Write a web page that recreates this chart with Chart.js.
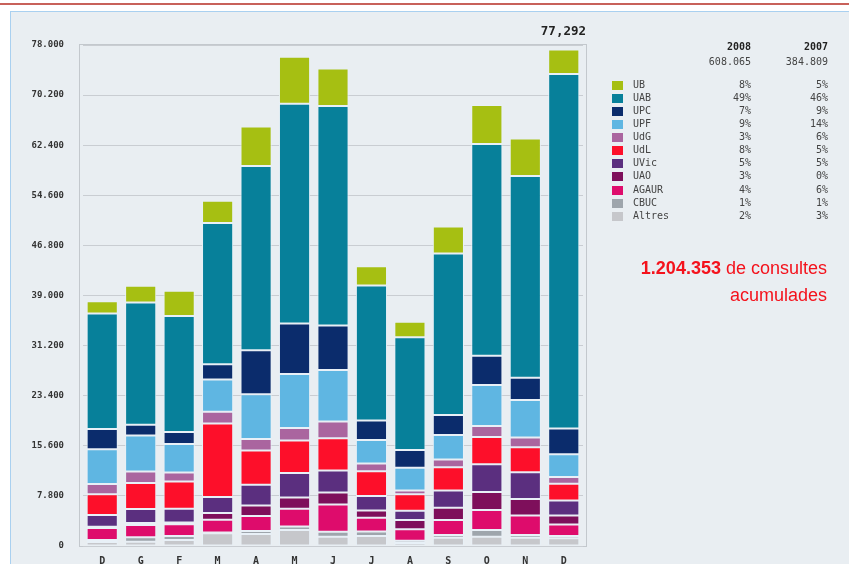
<!DOCTYPE html>
<html>
<head>
<meta charset="utf-8">
<script src="https://cdn.jsdelivr.net/npm/chart.js@4.4.1/dist/chart.umd.min.js"></script>
<style>
  body { margin: 0; width: 849px; height: 564px; overflow: hidden; background: #fff; position: relative; }
  .topline { position: absolute; left: 0; top: 3px; width: 849px; height: 2px; background: #c8615a; }
  .panel { position: absolute; left: 10px; top: 11px; width: 900px; height: 600px; background: #e9eef2; border: 1px solid #a9d0f0; }
  #chart { position: absolute; left: 0; top: 0; }
  .maxlabel { position: absolute; right: 263px; top: 23px; font: bold 12.5px "DejaVu Sans Mono", monospace; color: #222; }
  .legend { position: absolute; left: 610px; top: 40px; font: 10px "DejaVu Sans Mono", monospace; color: #444; }
  .legend .hdr { position: absolute; font-weight: bold; color: #222; text-align: right; width: 60px; }
  .legend .tot { position: absolute; text-align: right; width: 70px; color: #444; }
  .legend .row { position: absolute; left: 0; height: 13px; width: 220px; }
  .legend .sw { position: absolute; left: 2px; top: 2px; width: 11px; height: 9px; }
  .legend .nm { position: absolute; left: 23px; top: 0; }
  .legend .p8 { position: absolute; right: 79px; top: 0; text-align: right; }
  .legend .p7 { position: absolute; right: 2px; top: 0; text-align: right; }
  .note { position: absolute; right: 22px; top: 255px; font: 18px "Liberation Sans", Arial, sans-serif; color: #f4121c; text-align: right; line-height: 27px; }
  .note b { font-weight: bold; }
</style>
</head>
<body>
<div class="topline"></div>
<div class="panel"></div>
<canvas id="chart" width="849" height="564"></canvas>
<div class="maxlabel" id="maxlabel"></div>
<div class="legend" id="legend"></div>
<div class="note"><b>1.204.353</b> de consultes<br>acumulades</div>

<script>
// months (Dec 2007 .. Dec 2008)
const months = ["D", "G", "F", "M", "A", "M", "J", "J", "A", "S", "O", "N", "D"];

// consultes per universitat, stacked from the bottom up
const altres = [620, 670, 940, 1980, 1870, 2500, 1450, 1560, 470, 1300, 1450, 1300, 1200];
const cbuc = [310, 690, 620, 120, 470, 520, 780, 700, 360, 420, 1050, 420, 360];
const agaur = [1870, 1920, 1830, 1980, 2340, 2760, 4240, 2140, 1790, 2340, 3120, 3040, 1790];
const uao = [200, 300, 270, 1050, 1640, 1790, 1870, 1140, 1440, 1900, 2780, 2540, 1400];
const uvic = [1830, 2180, 2140, 2500, 3200, 3780, 3430, 2230, 1440, 2700, 4320, 4170, 2340];
const udl = [3230, 4060, 4260, 11440, 5350, 5090, 5020, 3880, 2540, 3590, 4260, 3900, 2610];
const udg = [1610, 1760, 1400, 1830, 1780, 1930, 2590, 1190, 590, 1220, 1700, 1510, 1060];
const upf = [5410, 5620, 4430, 5040, 6990, 8390, 8020, 3650, 3570, 3810, 6370, 5850, 3510];
const upc = [3120, 1670, 1870, 2340, 6830, 7880, 6910, 3060, 2730, 3120, 4560, 3480, 4010];
const uab = [17990, 19030, 18030, 22000, 28700, 34210, 34210, 21010, 17570, 25120, 32960, 31400, 55222];
const ub = [1920, 2600, 3960, 3480, 6150, 7330, 5830, 3010, 2400, 4210, 6080, 5830, 3790];

// legend table (top to bottom)
const legendNames = ["UB", "UAB", "UPC", "UPF", "UdG", "UdL", "UVic", "UAO", "AGAUR", "CBUC", "Altres"];
const pct2008 = ["8%", "49%", "7%", "9%", "3%", "8%", "5%", "3%", "4%", "1%", "2%"];
const pct2007 = ["5%", "46%", "9%", "14%", "6%", "5%", "5%", "0%", "6%", "1%", "3%"];
const years = ["2008", "2007"];
const yearTotals = ["608.065", "384.809"];
const maxLabel = "77,292";

const colors = {
  UB: "#a6bf12", UAB: "#07809a", UPC: "#0b2c6c", UPF: "#5fb6e2", UdG: "#aa659f",
  UdL: "#fd0f2a", UVic: "#5b2f7f", UAO: "#7e0f5b", AGAUR: "#de0c6c", CBUC: "#9ea5ac", Altres: "#c6c7cb"
};

const series = [
  ["Altres", altres], ["CBUC", cbuc], ["AGAUR", agaur], ["UAO", uao], ["UVic", uvic],
  ["UdL", udl], ["UdG", udg], ["UPF", upf], ["UPC", upc], ["UAB", uab], ["UB", ub]
];

// frame around the plot area
const framePlugin = {
  id: "frame",
  beforeDraw(chart) {
    const { ctx, chartArea } = chart;
    ctx.save();
    ctx.strokeStyle = "#c3c8cd";
    ctx.lineWidth = 1;
    ctx.strokeRect(chartArea.left - 3.5, chartArea.top - 0.5, chartArea.right - chartArea.left + 7, chartArea.bottom - chartArea.top + 1);
    ctx.restore();
  }
};

new Chart(document.getElementById("chart"), {
  type: "bar",
  data: {
    labels: months,
    datasets: series.map(([name, values]) => ({
      label: name,
      data: values,
      backgroundColor: colors[name],
      borderColor: "#e8f0f7",
      borderWidth: 1,
      borderSkipped: false,
      barPercentage: 1,
      categoryPercentage: 0.81
    }))
  },
  options: {
    responsive: false,
    animation: false,
    layout: { padding: { left: 0, top: 45, right: 266, bottom: 0 } },
    plugins: { legend: { display: false }, tooltip: { enabled: false } },
    scales: {
      x: {
        stacked: true,
        grid: { display: false, drawTicks: false },
        border: { display: false },
        ticks: { color: "#333", font: { family: "DejaVu Sans Mono", size: 10, weight: "bold" }, padding: 9 },
        afterFit: (s) => { s.height = 18; }
      },
      y: {
        stacked: true,
        min: 0,
        max: 78000,
        grid: { color: "#c9cdd2", drawTicks: false },
        border: { display: false },
        ticks: {
          stepSize: 7800,
          padding: 19,
          color: "#333",
          font: { family: "DejaVu Sans Mono", size: 9, weight: "bold" },
          callback: (v) => v === 0 ? "0" : v.toLocaleString("de-DE", { minimumFractionDigits: 0 })
        },
        afterFit: (s) => { s.width = 83; s.paddingTop = 0; s.paddingBottom = 0; }
      }
    }
  },
  plugins: [framePlugin]
});

document.getElementById("maxlabel").textContent = maxLabel;

// legend table
const legend = document.getElementById("legend");
years.forEach((y, i) => {
  const h = document.createElement("div");
  h.className = "hdr";
  h.textContent = y;
  h.style.left = (i === 0 ? 81 : 158) + "px";
  h.style.top = "1px";
  legend.appendChild(h);
  const t = document.createElement("div");
  t.className = "tot";
  t.textContent = yearTotals[i];
  t.style.left = (i === 0 ? 71 : 148) + "px";
  t.style.top = "16px";
  legend.appendChild(t);
});
legendNames.forEach((name, i) => {
  const row = document.createElement("div");
  row.className = "row";
  row.style.top = (39 + i * 13.07) + "px";
  row.innerHTML = `<span class="sw" style="background:${colors[name]}"></span>` +
    `<span class="nm">${name}</span><span class="p8">${pct2008[i]}</span><span class="p7">${pct2007[i]}</span>`;
  legend.appendChild(row);
});
</script>
</body>
</html>
